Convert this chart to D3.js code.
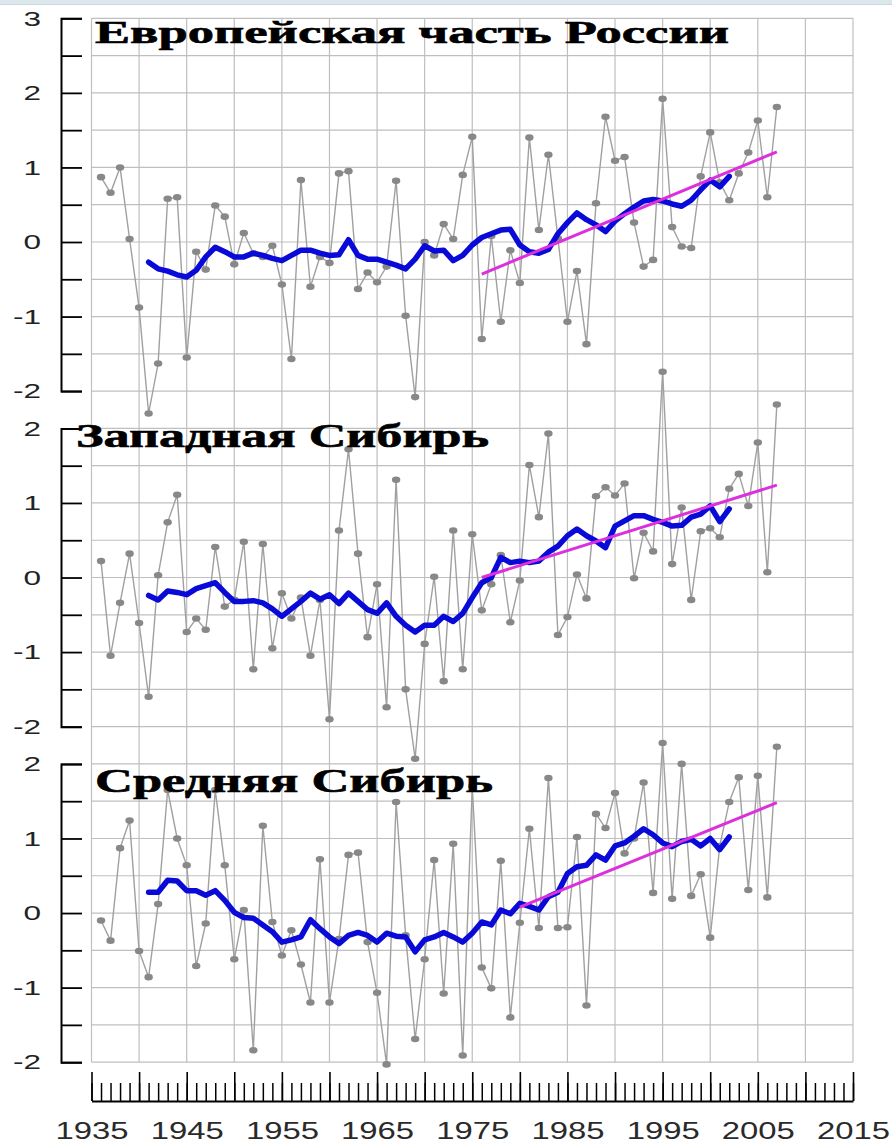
<!DOCTYPE html>
<html><head><meta charset="utf-8">
<script src="https://cdn.jsdelivr.net/npm/d3@7"></script>
<style>body{margin:0;background:#fff;overflow:hidden}</style>
</head><body>
<svg id="c" width="892" height="1143"></svg>
<script>
// ---------------- DATA ----------------
const titles = ["Европейская часть России", "Западная Сибирь", "Средняя Сибирь"];
const annualStartYear = 1936;   // first year of annual anomalies
const smoothStartYear = 1941;   // first year of smoothed curve
const xTickLabels = [1935, 1945, 1955, 1965, 1975, 1985, 1995, 2005, 2015];

// Annual anomalies 1936..2007
const eurAnnual = [0.87,0.66,1.0,0.04,-0.88,-2.3,-1.63,0.58,0.6,-1.55,
  -0.13,-0.37,0.49,0.34,-0.3,0.12,-0.15,-0.2,-0.05,-0.57,
  -1.57,0.83,-0.6,-0.2,-0.28,0.92,0.95,-0.63,-0.41,-0.54,
  -0.33,0.82,-0.99,-2.08,0.0,-0.18,0.24,0.04,0.9,1.41,
  -1.3,0.08,-1.07,-0.11,-0.55,1.4,0.16,1.17,0.05,-1.07,
  -0.39,-1.37,0.52,1.68,1.09,1.14,0.26,-0.33,-0.24,1.92,
  0.2,-0.06,-0.08,0.88,1.47,0.8,0.56,0.92,1.2,1.63,
  0.6,1.81];
const wsibAnnual = [0.22,-1.05,-0.34,0.32,-0.61,-1.6,0.03,0.74,1.11,-0.73,
  -0.55,-0.7,0.41,-0.39,-0.3,0.48,-1.23,0.45,-0.95,-0.21,
  -0.55,-0.27,-1.05,-0.3,-1.9,0.63,1.72,0.32,-0.8,-0.09,
  -1.74,1.31,-1.5,-2.43,-0.89,0.01,-1.39,0.63,-1.23,0.58,
  -0.44,-0.09,0.3,-0.6,-0.04,1.51,0.81,1.93,-0.77,-0.53,
  0.04,-0.28,1.09,1.21,1.1,1.26,-0.01,0.6,0.35,2.76,
  0.18,0.94,-0.3,0.62,0.66,0.54,1.19,1.39,0.96,1.81,
  0.07,2.32];
const csibAnnual = [-0.1,-0.37,0.87,1.24,-0.51,-0.86,0.12,1.65,1.0,0.64,
  -0.71,-0.14,1.65,0.64,-0.62,0.04,-1.84,1.17,-0.12,-0.57,
  -0.23,-0.69,-1.2,0.72,-1.2,-0.35,0.78,0.81,-0.39,-1.07,
  -2.03,1.49,-0.3,-1.69,-0.62,0.71,-1.08,0.93,-1.91,1.7,
  -0.73,-1.01,0.7,-1.4,-0.13,1.13,-0.2,1.81,-0.2,-0.19,
  1.02,-1.24,1.33,1.14,1.61,0.8,1.0,1.75,0.27,2.28,
  0.19,2.0,0.23,0.52,-0.33,0.9,1.49,1.82,0.31,1.84,
  0.21,2.23];

// Smoothed curves 1941..2002
const eurSmooth = [-0.27,-0.36,-0.39,-0.44,-0.47,-0.38,-0.2,-0.07,-0.13,-0.2,
  -0.2,-0.15,-0.18,-0.22,-0.25,-0.18,-0.11,-0.11,-0.15,-0.18,
  -0.17,0.03,-0.18,-0.23,-0.23,-0.27,-0.31,-0.36,-0.23,-0.05,
  -0.12,-0.11,-0.25,-0.18,-0.04,0.06,0.11,0.16,0.17,-0.04,
  -0.13,-0.15,-0.1,0.11,0.26,0.39,0.3,0.23,0.14,0.28,
  0.38,0.47,0.55,0.57,0.55,0.51,0.48,0.56,0.7,0.83,
  0.74,0.88];
const wsibSmooth = [-0.24,-0.3,-0.18,-0.2,-0.23,-0.15,-0.11,-0.07,-0.2,-0.32,
  -0.32,-0.31,-0.34,-0.42,-0.52,-0.42,-0.32,-0.21,-0.29,-0.23,
  -0.35,-0.21,-0.32,-0.43,-0.48,-0.34,-0.52,-0.64,-0.73,-0.64,
  -0.64,-0.52,-0.59,-0.48,-0.27,-0.07,0.0,0.27,0.2,0.22,
  0.2,0.22,0.34,0.42,0.56,0.65,0.56,0.49,0.4,0.69,
  0.76,0.83,0.83,0.78,0.74,0.69,0.7,0.81,0.85,0.96,
  0.75,0.92];
const csibSmooth = [0.28,0.28,0.44,0.43,0.3,0.3,0.24,0.3,0.17,0.01,
  -0.06,-0.07,-0.16,-0.25,-0.39,-0.36,-0.32,-0.09,-0.21,-0.32,
  -0.41,-0.3,-0.26,-0.3,-0.39,-0.27,-0.31,-0.32,-0.52,-0.36,
  -0.32,-0.26,-0.32,-0.39,-0.27,-0.12,-0.16,0.04,-0.01,0.13,
  0.09,0.04,0.22,0.28,0.53,0.62,0.64,0.78,0.71,0.9,
  0.94,1.03,1.13,1.05,0.94,0.89,0.96,0.99,0.9,1.0,
  0.85,1.02];

// Linear trends: [startYear, startValue], [endYear, endValue]
const eurTrend  = [[1976, -0.43], [2007, 1.21]];
const wsibTrend = [[1976, 0.0],  [2007, 1.24]];
const csibTrend = [[1980, 0.08], [2007, 1.48]];

const yTopValues = [3, 2, 2];

// ---------------- LAYOUT ----------------
const svg = d3.select("#c");
const unit = 74.56;
const zeros = [242, 242 + 4.5 * unit, 242 + 9 * unit];
const x = d3.scaleLinear().domain([1935, 2015]).range([91.5, 853]);
const gridY = d3.scaleLinear().domain([3, -11]).range([zeros[0] - 3 * unit, zeros[2] + 2 * unit]);

// top band
svg.append("rect").attr("x", 0).attr("y", 0).attr("width", 892).attr("height", 4).attr("fill", "#dbe7eb");
svg.append("line").attr("x1", 0).attr("x2", 892).attr("y1", 4.5).attr("y2", 4.5).attr("stroke", "#c9d8dd");

// grid
const grid = svg.append("g").attr("stroke", "#bfbfbf").attr("stroke-width", 1.2);
grid.selectAll("line.h").data(d3.range(0, 29).map(i => 3 - i * 0.5)).join("line")
  .attr("x1", x(1935)).attr("x2", x(2015))
  .attr("y1", d => gridY(d)).attr("y2", d => gridY(d));
grid.selectAll("line.v").data(d3.range(1935, 2016, 5)).join("line")
  .attr("x1", d => x(d)).attr("x2", d => x(d))
  .attr("y1", gridY(3)).attr("y2", gridY(-11));

const panels = [
  {annual: eurAnnual, smooth: eurSmooth, trend: eurTrend},
  {annual: wsibAnnual, smooth: wsibSmooth, trend: wsibTrend},
  {annual: csibAnnual, smooth: csibSmooth, trend: csibTrend}
];

const titlePos = [
  {x: 95, y: 43, len: 634, fs: 31},
  {x: 76, y: 447, len: 413, fs: 33},
  {x: 95, y: 792, len: 398, fs: 33}
];

panels.forEach((p, i) => {
  const top = yTopValues[i];
  const y = d3.scaleLinear().domain([-2, top]).range([zeros[i] + 2 * unit, zeros[i] - top * unit]);
  const g = svg.append("g");

  // y axis
  const ax = g.append("g").attr("transform", "translate(61,0)")
    .call(d3.axisLeft(y).tickValues(d3.range(-2, top + 0.01, 0.5))
      .tickSizeInner(-21).tickSizeOuter(-21).tickPadding(20)
      .tickFormat(d => Number.isInteger(d) ? String(d) : ""));
  ax.select(".domain").attr("stroke", "#000").attr("stroke-width", 2);
  ax.selectAll(".tick line").attr("stroke", "#000").attr("stroke-width", 1.8);
  ax.selectAll(".tick text")
    .attr("font-family", "Liberation Sans, Arial, sans-serif")
    .attr("font-size", 21).attr("fill", "#222")
    .each(function() {
      const w = this.getComputedTextLength();
      if (w > 0) d3.select(this).attr("textLength", w * 1.5).attr("lengthAdjust", "spacingAndGlyphs");
    });

  const annualData = p.annual.map((v, k) => ({year: annualStartYear + k, v}));
  const smoothData = p.smooth.map((v, k) => ({year: smoothStartYear + k, v}));

  // annual line
  g.append("path").datum(annualData)
    .attr("fill", "none").attr("stroke", "#a0a0a0").attr("stroke-width", 1.4)
    .attr("d", d3.line().x(d => x(d.year)).y(d => y(d.v)));
  g.selectAll("ellipse").data(annualData).join("ellipse")
    .attr("cx", d => x(d.year)).attr("cy", d => y(d.v))
    .attr("rx", 4.2).attr("ry", 3.3).attr("fill", "#888888");

  // smoothed
  g.append("path").datum(smoothData)
    .attr("fill", "none").attr("stroke", "#0a0ad8").attr("stroke-width", 5.5)
    .attr("stroke-linejoin", "round").attr("stroke-linecap", "round")
    .attr("d", d3.line().x(d => x(d.year)).y(d => y(d.v)));

  // trend
  g.append("path").datum(p.trend)
    .attr("fill", "none").attr("stroke", "#dd30dd").attr("stroke-width", 3)
    .attr("d", d3.line().x(d => x(d[0])).y(d => y(d[1])));

  // title
  const tp = titlePos[i];
  g.append("text").attr("x", tp.x).attr("y", tp.y)
    .attr("font-family", "Liberation Serif, Times New Roman, serif")
    .attr("font-weight", "bold").attr("font-size", tp.fs).attr("fill", "#000")
    .attr("stroke", "#000").attr("stroke-width", 0.6)
    .attr("textLength", tp.len).attr("lengthAdjust", "spacingAndGlyphs")
    .text(titles[i]);
});

// bottom ruler
const baseY = 1101;
const minor = svg.append("g").attr("transform", `translate(0,${baseY})`)
  .call(d3.axisTop(x).tickValues(d3.range(1935, 2016, 1)).tickSize(18).tickFormat(""));
minor.select(".domain").remove();
minor.selectAll(".tick line").attr("stroke", "#000").attr("stroke-width", 1.5);
const major = svg.append("g").attr("transform", `translate(0,${baseY})`)
  .call(d3.axisTop(x).tickValues(d3.range(1935, 2016, 5)).tickSize(29).tickSizeOuter(0).tickFormat(""));
major.select(".domain").attr("stroke", "#000").attr("stroke-width", 2);
major.selectAll(".tick line").attr("stroke", "#000").attr("stroke-width", 1.6);
const labels = svg.append("g").attr("transform", `translate(0,${baseY})`)
  .call(d3.axisBottom(x).tickValues(xTickLabels).tickSize(0).tickPadding(21).tickFormat(d => String(d)));
labels.select(".domain").remove();
labels.selectAll(".tick text")
  .attr("font-family", "Liberation Sans, Arial, sans-serif")
  .attr("font-size", 24).attr("fill", "#2a2a2a")
  .attr("textLength", 73).attr("lengthAdjust", "spacingAndGlyphs");
</script>
</body></html>
